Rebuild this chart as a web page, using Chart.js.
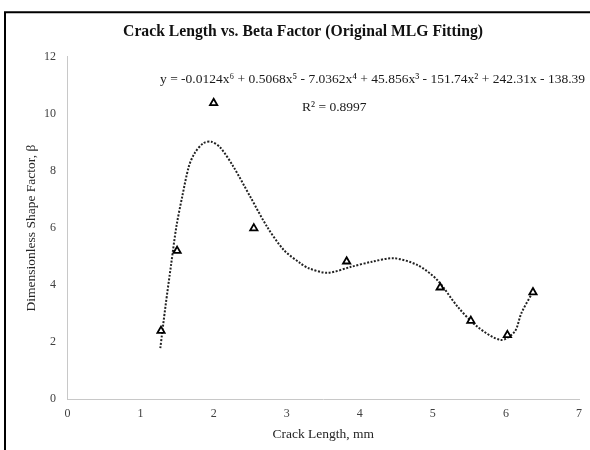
<!DOCTYPE html>
<html>
<head>
<meta charset="utf-8">
<script src="https://cdn.jsdelivr.net/npm/chart.js@4.4.1/dist/chart.umd.min.js"></script>
<style>
  html, body { margin: 0; padding: 0; background: #fff; }
  #wrap { width: 590px; height: 450px; position: relative; }
</style>
</head>
<body>
<div id="wrap"><canvas id="myChart"></canvas></div>
<script>
// measured points
const crackLength = [1.28, 1.50, 2.00, 2.55, 3.82, 5.10, 5.52, 6.02, 6.37];
const betaValues = [2.40, 5.20, 10.38, 5.99, 4.83, 3.92, 2.75, 2.25, 3.75];

// trendline
const trendX = [1.27, 1.34, 1.42, 1.49, 1.57, 1.66, 1.74, 1.86, 1.97, 2.09, 2.27, 2.50, 2.73, 2.96, 3.19, 3.30, 3.56, 3.88, 4.17, 4.47, 4.79, 5.06, 5.34, 5.61, 5.93, 6.12, 6.21, 6.37];
const trendY = [1.79, 3.24, 4.76, 6.05, 7.10, 8.15, 8.62, 8.97, 9.02, 8.82, 8.15, 7.10, 6.05, 5.23, 4.76, 4.59, 4.43, 4.64, 4.82, 4.94, 4.70, 4.18, 3.24, 2.54, 2.08, 2.37, 3.01, 3.77];

const titleText = "Crack Length vs. Beta Factor (Original MLG Fitting)";
const equationText = "y = -0.0124x\u2076 + 0.5068x\u2075 - 7.0362x\u2074 + 45.856x\u00B3 - 151.74x\u00B2 + 242.31x - 138.39";
const rSquaredText = "R\u00B2 = 0.8997";
const xTitle = "Crack Length, mm";
const yTitle = "Dimensionless Shape Factor, \u03B2";

const serif = "'Liberation Serif', 'Times New Roman', serif";

// frame lines, chart title + equation text
const frameAndLabels = {
    id: "frameAndLabels",
    afterDraw(chart) {
        const { ctx } = chart;
        ctx.save();
        ctx.strokeStyle = "#000";
        ctx.lineWidth = 2;
        ctx.beginPath();
        ctx.moveTo(5, 450);
        ctx.lineTo(5, 12.3);
        ctx.lineTo(590, 12.3);
        ctx.stroke();

        ctx.textBaseline = "middle";
        ctx.fillStyle = "#111";
        ctx.font = "bold 15.7px " + serif;
        ctx.textAlign = "center";
        ctx.fillText(titleText, 303, 31.7);

        ctx.fillStyle = "#1a1a1a";
        ctx.font = "13.5px " + serif;
        ctx.textAlign = "left";
        ctx.fillText(equationText, 160, 79);
        ctx.fillText(rSquaredText, 302, 107);
        ctx.restore();
    },
};

const data = {
    datasets: [
        {
            label: "Beta",
            data: crackLength.map((x, i) => ({ x: x, y: betaValues[i] })),
            pointStyle: "triangle",
            pointRadius: 4.2,
            pointBorderWidth: 1.8,
            borderColor: "#000",
            backgroundColor: "#fff",
            showLine: false,
            order: 0,
        },
        {
            label: "Poly. (Beta)",
            data: trendX.map((x, i) => ({ x: x, y: trendY[i] })),
            showLine: true,
            pointRadius: 0,
            borderColor: "#222",
            borderWidth: 2,
            borderDash: [2, 1.6],
            tension: 0.3,
            fill: false,
            order: 1,
        },
    ],
};

const config = {
    type: "scatter",
    data,
    options: {
        responsive: true,
        maintainAspectRatio: false,
        animation: false,
        layout: {
            padding: { left: 0, right: 11, top: 56.7, bottom: 4 },
        },
        plugins: {
            legend: { display: false },
            tooltip: { enabled: false },
            title: { display: false },
        },
        scales: {
            x: {
                type: "linear",
                min: 0,
                max: 7,
                grid: { display: false, drawTicks: false },
                border: { display: true, color: "#c8c8c8", width: 1 },
                ticks: {
                    stepSize: 1,
                    padding: 7.5,
                    color: "#404040",
                    font: { family: serif, size: 12 },
                },
                title: {
                    display: true,
                    text: xTitle,
                    color: "#262626",
                    font: { family: serif, size: 13.5 },
                    padding: { top: 4, bottom: 3.9 },
                },
                afterFit(scale) { scale.height = 450 - 4 - 399.3; },
            },
            y: {
                min: 0,
                max: 12,
                grid: { display: false, drawTicks: false },
                border: { display: true, color: "#c8c8c8", width: 1 },
                ticks: {
                    stepSize: 2,
                    padding: 11.5,
                    color: "#404040",
                    font: { family: serif, size: 12 },
                },
                title: {
                    display: true,
                    text: yTitle,
                    color: "#262626",
                    font: { family: serif, size: 13.5 },
                    padding: { top: 23.6, bottom: 4 },
                },
                afterFit(scale) { scale.width = 67.5; },
            },
        },
    },
    plugins: [frameAndLabels],
};

const myChart = new Chart(document.getElementById("myChart"), config);
</script>
</body>
</html>
